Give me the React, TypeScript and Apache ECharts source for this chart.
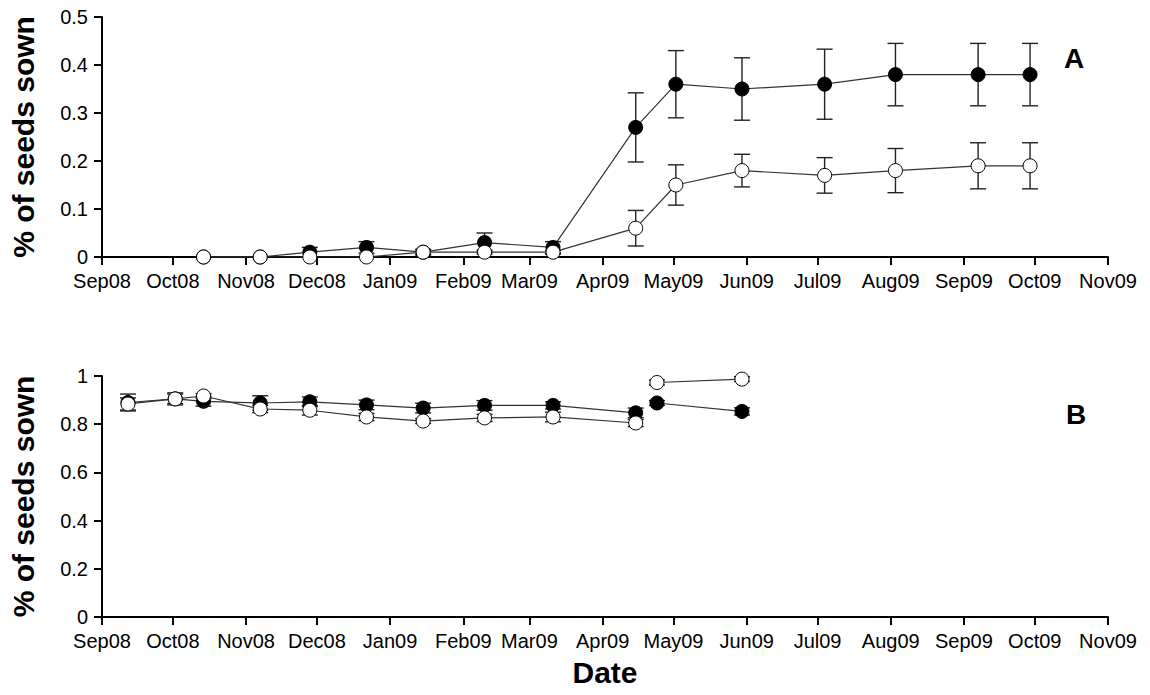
import React, { useEffect, useRef } from "react";
import * as echarts from "echarts";

// ---- Data ----
const monthTickDates = [
  "2008-09-01", "2008-10-01", "2008-11-01", "2008-12-01", "2009-01-01",
  "2009-02-01", "2009-03-01", "2009-04-01", "2009-05-01", "2009-06-01",
  "2009-07-01", "2009-08-01", "2009-09-01", "2009-10-01", "2009-11-01",
];
const monthTickLabels = [
  "Sep08", "Oct08", "Nov08", "Dec08", "Jan09", "Feb09", "Mar09", "Apr09",
  "May09", "Jun09", "Jul09", "Aug09", "Sep09", "Oct09", "Nov09",
];

// Panel A
const datesA = [
  "2008-10-14", "2008-11-07", "2008-11-28", "2008-12-22", "2009-01-15",
  "2009-02-10", "2009-03-11", "2009-04-15", "2009-05-02", "2009-05-30",
  "2009-07-04", "2009-08-03", "2009-09-07", "2009-09-29",
];
const filledA = [0, 0, 0.01, 0.02, 0.01, 0.03, 0.02, 0.27, 0.36, 0.35, 0.36, 0.38, 0.38, 0.38];
const filledErrA = [0, 0, 0.01, 0.012, 0.005, 0.02, 0.012, 0.072, 0.07, 0.065, 0.073, 0.065, 0.065, 0.065];
const openA = [0, 0, 0, 0, 0.01, 0.01, 0.01, 0.06, 0.15, 0.18, 0.17, 0.18, 0.19, 0.19];
const openErrA = [0, 0, 0, 0, 0.006, 0.004, 0.004, 0.037, 0.042, 0.034, 0.037, 0.046, 0.048, 0.048];

// Panel B (two separate segments)
const datesB1 = [
  "2008-09-12", "2008-10-02", "2008-10-14", "2008-11-07", "2008-11-28",
  "2008-12-22", "2009-01-15", "2009-02-10", "2009-03-11", "2009-04-15",
];
const filledB1 = [0.89, 0.905, 0.895, 0.888, 0.893, 0.88, 0.867, 0.878, 0.878, 0.847];
const filledErrB1 = [0.035, 0.02, 0.02, 0.03, 0.02, 0.02, 0.02, 0.02, 0.015, 0.02];
const openB1 = [0.884, 0.905, 0.917, 0.863, 0.858, 0.83, 0.813, 0.826, 0.83, 0.805];
const openErrB1 = [0.025, 0.025, 0.01, 0.015, 0.02, 0.015, 0.01, 0.015, 0.02, 0.015];

const datesB2 = ["2009-04-24", "2009-05-30"];
const filledB2 = [0.888, 0.853];
const filledErrB2 = [0.01, 0.015];
const openB2 = [0.973, 0.987];
const openErrB2 = [0.01, 0.01];

// ---- Helpers ----
const DAY = 86400000;
const ts = (s: string) => {
  const [y, m, d] = s.split("-").map(Number);
  return Math.round(Date.UTC(y, m - 1, d) / DAY);
};
const tickDays = monthTickDates.map(ts);
const FONT = "'Liberation Sans', Arial, sans-serif";

const pts = (dates: string[], vals: number[]) => dates.map((d, i) => [ts(d), vals[i]]);
const errs = (dates: string[], vals: number[], e: number[]) =>
  dates.map((d, i) => [ts(d), vals[i] - e[i], vals[i] + e[i]]);

const errorSeries = (idx: number, data: number[][]) => ({
  type: "custom",
  xAxisIndex: idx,
  yAxisIndex: idx,
  z: 1,
  silent: true,
  encode: { x: 0, y: [1, 2] },
  data,
  renderItem: (params: any, api: any) => {
    const x = api.value(0);
    const lo = api.value(1);
    const hi = api.value(2);
    if (hi - lo < 1e-9) return { type: "group", children: [] };
    const top = api.coord([x, hi]);
    const bot = api.coord([x, lo]);
    const hw = 8;
    const style = { stroke: "#222", lineWidth: 1.4 };
    return {
      type: "group",
      children: [
        { type: "line", shape: { x1: top[0], y1: top[1], x2: bot[0], y2: bot[1] }, style },
        { type: "line", shape: { x1: top[0] - hw, y1: top[1], x2: top[0] + hw, y2: top[1] }, style },
        { type: "line", shape: { x1: bot[0] - hw, y1: bot[1], x2: bot[0] + hw, y2: bot[1] }, style },
      ],
    };
  },
});

const lineSeries = (idx: number, data: number[][], filled: boolean) => ({
  type: "line",
  xAxisIndex: idx,
  yAxisIndex: idx,
  z: filled ? 2 : 3,
  data,
  symbol: "circle",
  symbolSize: 14,
  showSymbol: true,
  itemStyle: { color: filled ? "#000" : "#fff", borderColor: "#000", borderWidth: 1 },
  lineStyle: { color: "#333", width: 1.2 },
});

const xAxisCfg = (idx: number, withName: boolean) => ({
  type: "value",
  gridIndex: idx,
  min: tickDays[0],
  max: tickDays[tickDays.length - 1],
  axisLine: { show: true, lineStyle: { color: "#000", width: 2 } },
  axisTick: { show: true, inside: false, length: 8, customValues: tickDays, lineStyle: { color: "#000", width: 2 } },
  axisLabel: {
    customValues: tickDays,
    margin: 14,
    color: "#000",
    fontSize: 20,
    fontFamily: FONT,
    hideOverlap: false,
    showMinLabel: true,
    showMaxLabel: true,
    formatter: (v: number) => {
      const i = tickDays.indexOf(Math.round(v));
      return i >= 0 ? monthTickLabels[i] : "";
    },
  },
  splitLine: { show: false },
  name: withName ? "Date" : "",
  nameLocation: "middle",
  nameGap: 40,
  nameTextStyle: { fontSize: 30, fontWeight: "bold", color: "#000", fontFamily: FONT },
});

const yAxisCfg = (idx: number, max: number, interval: number) => ({
  type: "value",
  gridIndex: idx,
  min: 0,
  max,
  interval,
  axisLine: { show: true, lineStyle: { color: "#000", width: 2 } },
  axisTick: { show: true, inside: false, length: 8, lineStyle: { color: "#000", width: 2 } },
  axisLabel: { margin: 14, color: "#000", fontSize: 20, fontFamily: FONT },
  splitLine: { show: false },
  name: "% of seeds sown",
  nameLocation: "middle",
  nameRotate: 90,
  nameGap: 64,
  nameTextStyle: { fontSize: 30, fontWeight: "bold", color: "#000", fontFamily: FONT },
});

export default function App() {
  const ref = useRef<HTMLDivElement>(null);
  useEffect(() => {
    document.body.style.margin = "0";
    if (!ref.current) return;
    const chart = echarts.init(ref.current, undefined, { renderer: "svg" });
    chart.setOption({
      animation: false,
      backgroundColor: "#fff",
      grid: [
        { left: 100, top: 17, width: 1008, height: 240 },
        { left: 100, top: 376, width: 1008, height: 241 },
      ],
      xAxis: [xAxisCfg(0, false), xAxisCfg(1, true)],
      yAxis: [yAxisCfg(0, 0.5, 0.1), yAxisCfg(1, 1, 0.2)],
      graphic: [
        { type: "text", left: 1064, top: 44, style: { text: "A", fontSize: 28, fontWeight: "bold", fill: "#000", fontFamily: FONT } },
        { type: "text", left: 1066, top: 400, style: { text: "B", fontSize: 28, fontWeight: "bold", fill: "#000", fontFamily: FONT } },
      ],
      series: [
        errorSeries(0, errs(datesA, filledA, filledErrA)),
        errorSeries(0, errs(datesA, openA, openErrA)),
        lineSeries(0, pts(datesA, filledA), true),
        lineSeries(0, pts(datesA, openA), false),
        errorSeries(1, errs(datesB1, filledB1, filledErrB1)),
        errorSeries(1, errs(datesB1, openB1, openErrB1)),
        errorSeries(1, errs(datesB2, filledB2, filledErrB2)),
        errorSeries(1, errs(datesB2, openB2, openErrB2)),
        lineSeries(1, pts(datesB1, filledB1), true),
        lineSeries(1, pts(datesB2, filledB2), true),
        lineSeries(1, pts(datesB1, openB1), false),
        lineSeries(1, pts(datesB2, openB2), false),
      ],
    });
    return () => chart.dispose();
  }, []);
  return <div ref={ref} style={{ width: 1150, height: 695 }} />;
}
